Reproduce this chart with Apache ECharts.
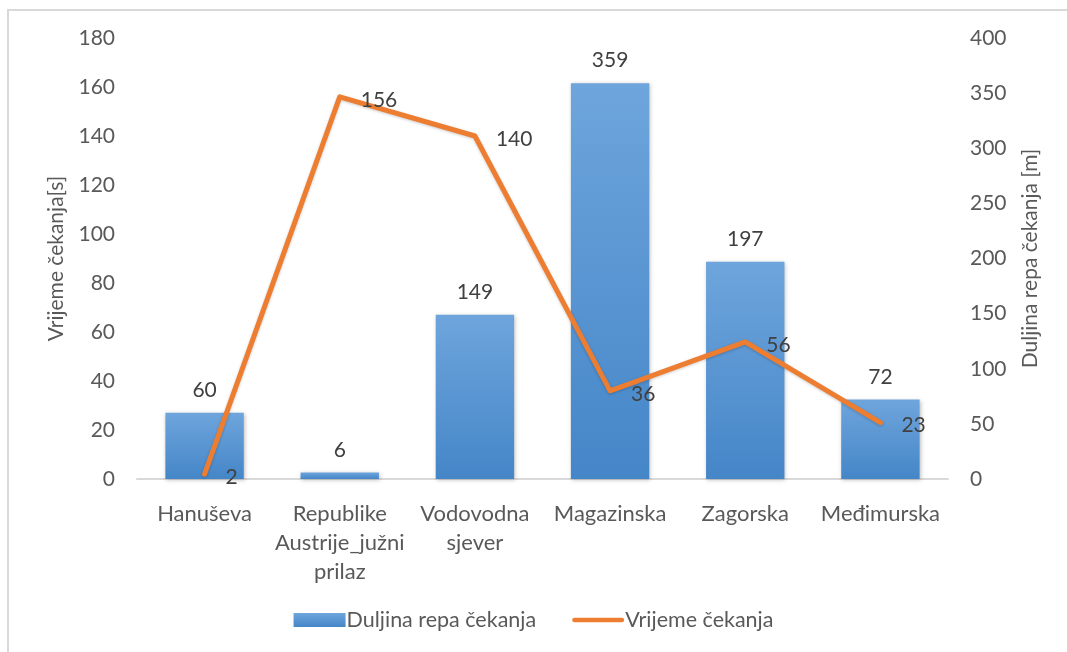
<!DOCTYPE html>
<html>
<head>
<meta charset="utf-8">
<script src="https://cdn.jsdelivr.net/npm/echarts@6/dist/echarts.min.js"></script>
<style>
  html, body { margin: 0; padding: 0; background: #fff; }
  #frame { position: absolute; left: 7px; top: 9px; width: 1100px; height: 700px; border: 2px solid #d9d9d9; box-sizing: border-box; }
  #chart { position: absolute; left: 0; top: 0; width: 1067px; height: 652px; }
</style>
</head>
<body>
<div id="frame"></div>
<div id="chart"></div>
<script>
// Intersections and their measured values
const categories = ['Hanuševa', 'Republike\nAustrije_južni\nprilaz', 'Vodovodna\nsjever', 'Magazinska', 'Zagorska', 'Međimurska'];
const queueLength = [60, 6, 149, 359, 197, 72];   // Duljina repa čekanja [m]
const waitTime = [2, 156, 140, 36, 56, 23];        // Vrijeme čekanja [s]

const FONT = 'Lato';
const FS = 21;
const chart = echarts.init(document.getElementById('chart'), null, { renderer: 'canvas' });

const barGradient = new echarts.graphic.LinearGradient(0, 0, 0, 1, [
  { offset: 0, color: '#6ea5dc' },
  { offset: 1, color: '#4586c8' }
]);

// thick rounded stroke used as the line series legend key
const lineKey = 'path://M2.5,0 L52.5,0 A2.5,2.5 0 0 1 52.5,5 L2.5,5 A2.5,2.5 0 0 1 2.5,0 Z';

chart.setOption({
  backgroundColor: 'transparent',
  animation: false,
  textStyle: { fontFamily: FONT },
  grid: { left: 137, right: 119, top: 38, bottom: 173, containLabel: false },
  legend: {
    bottom: 16,
    left: 'center',
    itemGap: 36,
    itemWidth: 52,
    itemHeight: 14,
    textStyle: { fontFamily: FONT, fontSize: 21.5, color: '#595959', padding: [0, 0, 0, -4] },
    data: [
      { name: 'Duljina repa čekanja', icon: 'rect' },
      { name: 'Vrijeme čekanja', icon: lineKey, itemStyle: { color: '#ed7d31', opacity: 1 } }
    ]
  },
  xAxis: {
    type: 'category',
    data: categories,
    axisLine: { lineStyle: { color: '#d9d9d9', width: 2 } },
    axisTick: { show: false },
    axisLabel: { fontFamily: FONT, fontSize: 22, color: '#595959', margin: 20, lineHeight: 29, interval: 0 }
  },
  yAxis: [
    {
      type: 'value', min: 0, max: 180, interval: 20, position: 'left',
      name: 'Vrijeme čekanja[s]', nameLocation: 'middle', nameGap: 70, nameRotate: 90,
      nameTextStyle: { fontFamily: FONT, fontSize: FS, color: '#595959' },
      axisLine: { show: false }, axisTick: { show: false }, splitLine: { show: false },
      axisLabel: { fontFamily: FONT, fontSize: FS, color: '#595959', margin: 22 }
    },
    {
      type: 'value', min: 0, max: 400, interval: 50, position: 'right',
      name: 'Duljina repa čekanja [m]', nameLocation: 'middle', nameGap: 72, nameRotate: 90,
      nameTextStyle: { fontFamily: FONT, fontSize: FS, color: '#595959' },
      axisLine: { show: false }, axisTick: { show: false }, splitLine: { show: false },
      axisLabel: { fontFamily: FONT, fontSize: FS, color: '#595959', margin: 22 }
    }
  ],
  series: [
    {
      name: 'Duljina repa čekanja',
      type: 'bar',
      yAxisIndex: 1,
      data: queueLength,
      barWidth: '58%',
      itemStyle: { color: barGradient, shadowColor: 'rgba(0,0,0,0.25)', shadowBlur: 4, shadowOffsetX: 1, shadowOffsetY: 1 },
      label: { show: true, position: 'top', distance: 12, fontFamily: FONT, fontSize: FS, color: '#404040' }
    },
    {
      name: 'Vrijeme čekanja',
      type: 'line',
      yAxisIndex: 0,
      data: waitTime,
      symbol: 'circle',
      symbolSize: 0,
      showSymbol: true,
      z: 5,
      color: '#ed7d31',
      itemStyle: { color: '#ed7d31' },
      lineStyle: { color: '#ed7d31', width: 5, cap: 'round', join: 'round', shadowColor: 'rgba(0,0,0,0.2)', shadowBlur: 3, shadowOffsetY: 1 },
      label: { show: true, position: 'right', distance: 21, offset: [0, 3], fontFamily: FONT, fontSize: FS, color: '#404040' }
    }
  ]
});
</script>
</body>
</html>
